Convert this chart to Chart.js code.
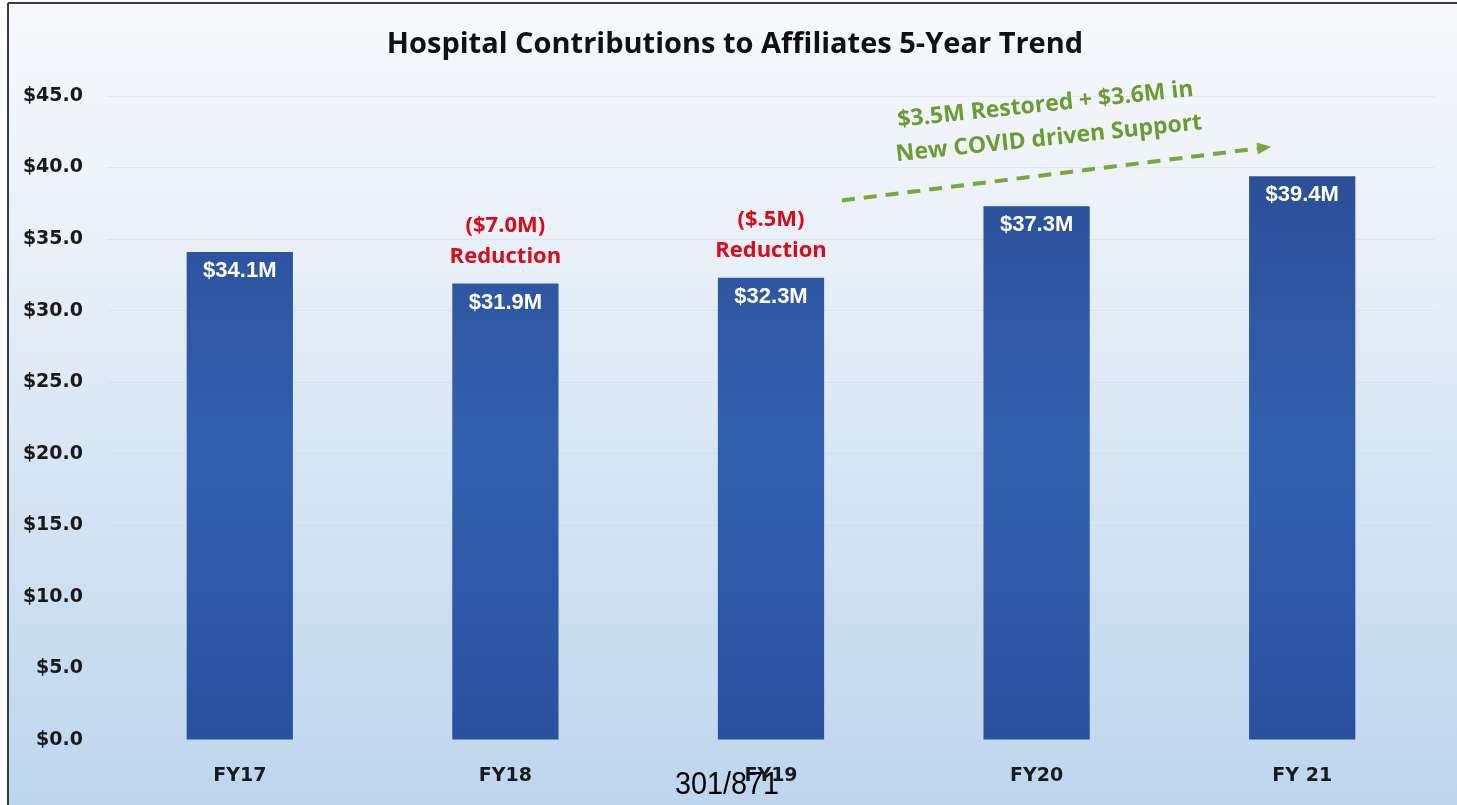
<!DOCTYPE html>
<html>
<head>
<meta charset="utf-8">
<script src="https://cdn.jsdelivr.net/npm/chart.js@4"></script>
<style>
html, body { margin: 0; padding: 0; background: #fff; }
</style>
</head>
<body>
<canvas id="chart" width="1457" height="805"></canvas>
<script>
const years = ['FY17', 'FY18', 'FY19', 'FY20', 'FY 21'];
const contributions = [34.1, 31.9, 32.3, 37.3, 39.4];
const valueLabels = ['$34.1M', '$31.9M', '$32.3M', '$37.3M', '$39.4M'];
const reductionNotes = [null, ['($7.0M)', 'Reduction'], ['($.5M)', 'Reduction'], null, null];
const covidNote = ['$3.5M Restored + $3.6M in', 'New COVID driven Support'];
const titleText = 'Hospital Contributions to Affiliates 5-Year Trend';
const pageNo = '301/871';

// where the green arrow runs: [category index, offset in categories, value]
const arrowFrom = [2, 0.267, 37.7];
const arrowTo = [4, -0.117, 41.45];
const covidAt = [3, 0.04, 43.2];

const backdrop = {
  id: 'backdrop',
  beforeDraw(chart) {
    const ctx = chart.ctx;
    const w = chart.width, h = chart.height;
    ctx.save();
    ctx.fillStyle = '#fff';
    ctx.fillRect(0, 0, w, h);
    const g = ctx.createLinearGradient(0, 3, 0, h);
    g.addColorStop(0, '#f7f9fc');
    g.addColorStop(0.3, '#e9f0f8');
    g.addColorStop(0.62, '#d4e4f3');
    g.addColorStop(1, '#bdd6ee');
    ctx.fillStyle = g;
    ctx.fillRect(8, 3, w - 8, h - 3);
    ctx.strokeStyle = '#3a3a3a';
    ctx.lineWidth = 2;
    ctx.beginPath();
    ctx.moveTo(8, 3);
    ctx.lineTo(w, 3);
    ctx.moveTo(8, 3);
    ctx.lineTo(8, h);
    ctx.stroke();
    ctx.restore();
  }
};

function catX(xs, at) {
  const step = xs.getPixelForValue(1) - xs.getPixelForValue(0);
  return xs.getPixelForValue(at[0]) + at[1] * step;
}

const notes = {
  id: 'notes',
  afterDatasetsDraw(chart) {
    const ctx = chart.ctx;
    const xs = chart.scales.x, ys = chart.scales.y;
    const bars = chart.getDatasetMeta(0).data;
    ctx.save();
    ctx.textAlign = 'center';
    ctx.textBaseline = 'middle';

    // values inside the bars
    ctx.fillStyle = '#fff';
    ctx.font = 'bold 22px "Liberation Sans"';
    bars.forEach((b, i) => ctx.fillText(valueLabels[i], b.x, b.y + 19));

    // red reduction notes
    ctx.fillStyle = '#dc0a18';
    ctx.font = 'bold 22px "Open Sans"';
    bars.forEach((b, i) => {
      const n = reductionNotes[i];
      if (!n) return;
      ctx.fillText(n[0], b.x, b.y - 58);
      ctx.fillText(n[1], b.x, b.y - 27);
    });

    // green dashed arrow
    const x1 = catX(xs, arrowFrom), y1 = ys.getPixelForValue(arrowFrom[2]);
    const x2 = catX(xs, arrowTo), y2 = ys.getPixelForValue(arrowTo[2]);
    const ang = Math.atan2(y2 - y1, x2 - x1);
    ctx.strokeStyle = '#78a83a';
    ctx.fillStyle = '#78a83a';
    ctx.lineWidth = 4;
    ctx.setLineDash([13, 9]);
    ctx.beginPath();
    ctx.moveTo(x1, y1);
    ctx.lineTo(x2 - 12 * Math.cos(ang), y2 - 12 * Math.sin(ang));
    ctx.stroke();
    ctx.setLineDash([]);
    ctx.translate(x2, y2);
    ctx.rotate(ang);
    ctx.beginPath();
    ctx.moveTo(0, 0);
    ctx.lineTo(-14, -6);
    ctx.lineTo(-14, 6);
    ctx.closePath();
    ctx.fill();
    ctx.setTransform(1, 0, 0, 1, 0, 0);

    // green note text
    ctx.translate(catX(xs, covidAt), ys.getPixelForValue(covidAt[2]));
    ctx.rotate(-6 * Math.PI / 180);
    ctx.fillStyle = '#6c9b32';
    ctx.font = 'bold 23px "Open Sans"';
    ctx.fillText(covidNote[0], 0, -17);
    ctx.fillText(covidNote[1], 0, 17);
    ctx.restore();
  },
  afterDraw(chart) {
    const ctx = chart.ctx;
    ctx.save();
    ctx.textAlign = 'center';
    ctx.textBaseline = 'middle';
    ctx.fillStyle = '#111';
    ctx.font = 'bold 29px "Open Sans"';
    ctx.fillText(titleText, 735, 45);
    ctx.fillStyle = '#000';
    ctx.font = '32px "Liberation Sans"';
    ctx.translate(727, 785);
    ctx.scale(0.9, 1);
    ctx.fillText(pageNo, 0, 0);
    ctx.restore();
  }
};

function barFill(context) {
  const area = context.chart.chartArea;
  if (!area) return '#2e55a2';
  const g = context.chart.ctx.createLinearGradient(0, area.top, 0, area.bottom);
  g.addColorStop(0, '#2a4a93');
  g.addColorStop(0.55, '#3260b0');
  g.addColorStop(1, '#2b50a0');
  return g;
}

new Chart(document.getElementById('chart'), {
  type: 'bar',
  data: {
    labels: years,
    datasets: [{
      data: contributions,
      backgroundColor: barFill,
      borderWidth: 0,
      barPercentage: 0.4,
      categoryPercentage: 1.0
    }]
  },
  options: {
    responsive: false,
    animation: false,
    devicePixelRatio: 1,
    layout: { padding: { top: 96, right: 22, bottom: 0, left: 0 } },
    plugins: {
      legend: { display: false },
      title: { display: false },
      tooltip: { enabled: false }
    },
    scales: {
      x: {
        afterFit(scale) { scale.height = 65; },
        grid: { display: false, drawTicks: false },
        border: { display: false },
        ticks: {
          padding: 25,
          color: '#1a1a1a',
          font: { family: 'DejaVu Sans', weight: 'bold', size: 19 }
        }
      },
      y: {
        min: 0,
        max: 45,
        afterFit(scale) { scale.width = 107; },
        grid: { color: 'rgba(195,208,225,0.35)', drawTicks: false },
        border: { display: false },
        ticks: {
          stepSize: 5,
          padding: 24,
          color: '#1a1a1a',
          font: { family: 'DejaVu Sans', weight: 'bold', size: 19 },
          callback: v => '$' + v.toFixed(1)
        }
      }
    }
  },
  plugins: [backdrop, notes]
});
</script>
</body>
</html>
